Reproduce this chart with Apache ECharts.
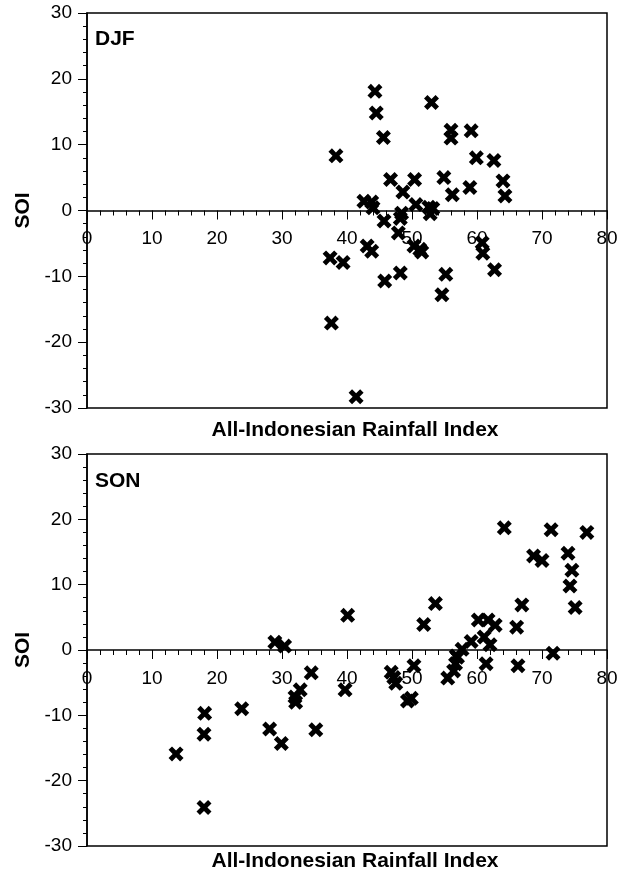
<!DOCTYPE html>
<html>
<head>
<meta charset="utf-8">
<script src="https://cdn.jsdelivr.net/npm/echarts@6/dist/echarts.min.js"></script>
<style>
  html, body { margin: 0; padding: 0; background: #fff; }
  #chart { width: 628px; height: 873px; }
</style>
</head>
<body>
<div id="chart"></div>
<script>
// DJF panel (rainfall index, SOI)
var djfRain = [38.3, 44.3, 44.5, 45.6, 46.7, 48.6, 50.4, 53.0, 54.9, 56.0, 56.0, 56.2, 59.1, 58.9, 59.9,
  62.6, 64.0, 64.3, 42.6, 43.8, 44.0, 50.6, 52.6, 53.2, 52.8, 48.4, 48.2, 45.7, 47.9, 50.3,
  51.2, 51.5, 43.1, 43.8, 37.4, 39.4, 45.8, 48.2, 54.6, 55.2, 60.8, 60.9, 62.7, 37.6, 41.4];
var djfSoi = [8.3, 18.1, 14.8, 11.1, 4.7, 2.8, 4.7, 16.4, 5.0, 12.2, 11.0, 2.4, 12.1, 3.5, 8.0,
  7.6, 4.5, 2.2, 1.4, 1.3, 0.4, 0.9, 0.5, 0.3, -0.5, -0.4, -1.2, -1.6, -3.4, -5.4,
  -5.9, -6.3, -5.4, -6.2, -7.2, -7.9, -10.7, -9.5, -12.8, -9.7, -4.9, -6.5, -9.0, -17.1, -28.3];

// SON panel
var sonRain = [28.9, 30.4, 40.1, 51.8, 53.6, 56.8, 57.7, 59.1, 60.2, 61.7, 61.1, 62.0, 62.8, 64.2, 66.1,
  66.9, 68.7, 70.0, 71.4, 71.7, 74.0, 74.6, 74.3, 75.1, 76.9, 13.7, 18.1, 18.0, 18.0, 23.8,
  28.1, 29.9, 32.0, 32.1, 32.8, 34.5, 35.2, 39.7, 46.8, 47.2, 47.5, 49.3, 49.9, 50.3, 55.5,
  56.4, 56.7, 57.0, 61.4, 66.3];
var sonSoi = [1.2, 0.6, 5.3, 3.9, 7.1, -0.9, 0.1, 1.3, 4.6, 4.6, 2.0, 0.8, 3.8, 18.7, 3.5,
  6.9, 14.4, 13.7, 18.4, -0.5, 14.8, 12.2, 9.8, 6.5, 18.0, -15.9, -9.7, -12.9, -24.1, -9.0,
  -12.1, -14.3, -7.2, -8.0, -6.1, -3.5, -12.2, -6.1, -3.4, -4.2, -5.1, -7.8, -7.4, -2.4, -4.3,
  -3.2, -2.1, -1.1, -2.1, -2.4];

var panelNames = ["DJF", "SON"];
var xTitle = "All-Indonesian Rainfall Index";
var yTitle = "SOI";

function pairs(xs, ys) {
  return xs.map(function (x, i) { return [x, ys[i]]; });
}

// thick X marker
var crossPath = "path://M2.3,0 L5,2.7 L7.7,0 L10,2.3 L7.3,5 L10,7.7 L7.7,10 L5,7.3 L2.3,10 L0,7.7 L2.7,5 L0,2.3 Z";
var font = "Liberation Sans, Arial, sans-serif";

var grids = [
  { left: 87, top: 13, width: 520, height: 395 },
  { left: 87, top: 454, width: 520, height: 392 }
];

// x axis drawn across the middle of the frame (SOI = 0)
function xAxis(i) {
  return {
    type: "value", gridIndex: i, min: 0, max: 80, interval: 10,
    position: "bottom", offset: -grids[i].height / 2,
    axisLine: { onZero: false, lineStyle: { color: "#000", width: 1.5 } },
    axisTick: { length: 9, lineStyle: { color: "#000", width: 1 } },
    minorTick: { show: true, splitNumber: 5, length: 5, lineStyle: { color: "#000", width: 1 } },
    splitLine: { show: false },
    axisLabel: { color: "#000", fontSize: 19, fontFamily: font, margin: 19 }
  };
}
function yAxis(i) {
  return {
    type: "value", gridIndex: i, min: -30, max: 30, interval: 10,
    name: yTitle, nameLocation: "middle", nameRotate: 90, nameGap: 51,
    nameTextStyle: { color: "#000", fontSize: 21, fontWeight: "bold", fontFamily: font },
    axisLine: { show: true, lineStyle: { color: "#000", width: 1.5 } },
    axisTick: { length: 9, lineStyle: { color: "#000", width: 1 } },
    minorTick: { show: true, splitNumber: 5, length: 4, lineStyle: { color: "#000", width: 1 } },
    splitLine: { show: false },
    axisLabel: { color: "#000", fontSize: 19, fontFamily: font, margin: 15 }
  };
}

var chart = echarts.init(document.getElementById("chart"));
chart.setOption({
  animation: false,
  grid: grids.map(function (g) {
    return Object.assign({ show: true, borderColor: "#000", borderWidth: 1.5, backgroundColor: "#fff" }, g);
  }),
  xAxis: [xAxis(0), xAxis(1)],
  yAxis: [yAxis(0), yAxis(1)],
  graphic: [
    { type: "text", left: 95, top: 29, style: { text: panelNames[0], fill: "#000", font: "bold 21px " + font } },
    { type: "text", left: 95, top: 471, style: { text: panelNames[1], fill: "#000", font: "bold 21px " + font } },
    { type: "text", x: 355, y: 430, style: { text: xTitle, fill: "#000", font: "bold 21px " + font, textAlign: "center", textVerticalAlign: "middle" } },
    { type: "text", x: 355, y: 861, style: { text: xTitle, fill: "#000", font: "bold 21px " + font, textAlign: "center", textVerticalAlign: "middle" } }
  ],
  series: [
    { type: "scatter", xAxisIndex: 0, yAxisIndex: 0, symbol: crossPath, symbolSize: 15,
      itemStyle: { color: "#000", opacity: 1 }, data: pairs(djfRain, djfSoi) },
    { type: "scatter", xAxisIndex: 1, yAxisIndex: 1, symbol: crossPath, symbolSize: 15,
      itemStyle: { color: "#000", opacity: 1 }, data: pairs(sonRain, sonSoi) }
  ]
});
</script>
</body>
</html>
